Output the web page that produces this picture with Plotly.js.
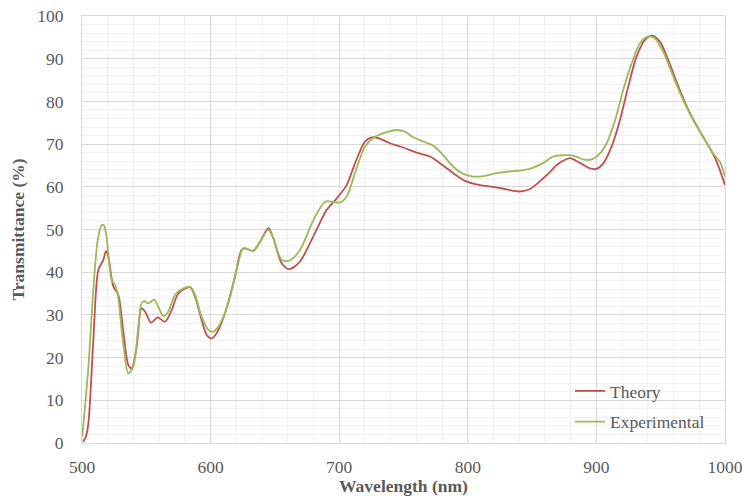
<!DOCTYPE html>
<html>
<head>
<meta charset="utf-8">
<script src="https://cdn.plot.ly/plotly-3.0.1.min.js"></script>
<style>
  html, body { margin: 0; padding: 0; background: #fff; }
  #chart { width: 742px; height: 496px; }
</style>
</head>
<body>
<div id="chart"></div>
<script>
// Transmission spectra: calculated vs. measured
const theoryWavelength = [500.8, 503, 505, 508.8, 512.7, 516.6, 518.7, 520.5, 524.4, 528.2, 532, 536, 538.6, 542.5, 546.3, 549, 553.7, 558.8, 564.5, 569.7, 574.9, 584, 587.9, 593, 597, 600.8, 604.7, 611.2, 619, 624, 626.7, 633.2, 638.4, 644.9, 648.8, 655.3, 661.3, 669.5, 679.9, 690.3, 698.1, 705.8, 712.3, 720, 725.2, 730.4, 739.5, 749.8, 760.2, 770.6, 778.4, 788.7, 797.8, 809.5, 819.8, 830.2, 840.6, 848.4, 858.7, 864, 869.1, 876.9, 879.5, 887.2, 895, 900.2, 905.4, 911.8, 918.3, 924.7, 931.2, 937.8, 943.4, 949.4, 955.9, 963.7, 971.5, 980.6, 988.3, 993.5, 1000];
const theoryT = [0.3, 1.5, 4.7, 24, 40.5, 42.9, 45, 43.6, 36.6, 34.7, 26.5, 18.3, 17.5, 22.5, 31.5, 30.8, 28.2, 29.4, 28.4, 31.1, 35, 36.5, 34.3, 28.8, 25.3, 24.5, 25.7, 30.4, 39, 45.2, 45.6, 45.0, 47.1, 50.3, 47.9, 42.1, 40.7, 42.5, 48.4, 54.6, 57.3, 60.4, 65.5, 70.6, 71.6, 71.4, 70.2, 69.2, 68, 67.1, 65.5, 63.2, 61.4, 60.4, 60, 59.4, 58.9, 59.5, 62, 63.5, 65.1, 66.5, 66.7, 65.6, 64.3, 64.2, 65.5, 69.4, 75.6, 83.4, 90.5, 94.4, 95.4, 94, 89.7, 83.5, 78, 72.9, 69, 65.9, 60.4];

const experimentalWavelength = [500.2, 505, 508.8, 512.2, 515.3, 517, 519.1, 523, 525.7, 527.7, 532, 536, 539.9, 543.8, 546.3, 549, 551.5, 556.2, 559.3, 563.2, 567.1, 572.3, 577.5, 584, 587.9, 593, 598.2, 602.1, 606, 613.8, 621.5, 625.4, 633.2, 638.4, 644.9, 648.8, 655.3, 661.3, 669.5, 679.9, 689, 695.5, 700.6, 705.8, 712.3, 720, 727.8, 736.9, 744.6, 751.1, 757.6, 765.4, 773.2, 779.7, 787.4, 795.2, 804.3, 812, 822.4, 832.8, 843.2, 850.9, 858.7, 866.5, 874.3, 879.5, 885.9, 889.8, 896.3, 902.8, 908, 914.5, 920.9, 927.4, 933.9, 940.3, 945.5, 952, 959.8, 967.5, 975.3, 983.1, 990.8, 996, 1000];
const experimentalT = [1.5, 17.9, 35.8, 47.5, 51, 51, 48.3, 38.2, 37, 35, 23.4, 16.3, 17.9, 27.2, 32.7, 33.3, 32.7, 33.6, 31.9, 29.7, 30.8, 34.7, 36, 36.6, 34.7, 29.6, 26.5, 26.1, 27.2, 32.7, 42.1, 45.6, 45.0, 47.1, 49.9, 47.9, 42.9, 42.7, 45.2, 52.2, 56.5, 56.5, 56.3, 57.7, 63.2, 69.4, 71.7, 72.8, 73.3, 72.9, 71.6, 70.6, 69.6, 67.8, 65.1, 63.2, 62.4, 62.5, 63.2, 63.6, 63.9, 64.5, 65.6, 67.1, 67.4, 67.4, 66.9, 66.4, 66.4, 67.8, 70.2, 75.6, 82.7, 88.9, 93.6, 95.2, 94.8, 91.6, 85.8, 80.3, 75.6, 71.7, 67.8, 65.9, 62.4];

const seriesNames = ['Theory', 'Experimental'];
const xTickLabels = ['500', '600', '700', '800', '900', '1000'];
const yTickLabels = ['0', '10', '20', '30', '40', '50', '60', '70', '80', '90', '100'];

const textGrey = '#595959';
const serif = '"Liberation Serif", "Times New Roman", serif';
const fontSize = 17.5;

const traces = [
  {
    x: theoryWavelength, y: theoryT, name: seriesNames[0],
    type: 'scatter', mode: 'lines', legendgroup: 'a',
    line: { color: '#C0504D', width: 1.8, shape: 'spline', smoothing: 0.8 }
  },
  {
    x: experimentalWavelength, y: experimentalT, name: seriesNames[1],
    type: 'scatter', mode: 'lines', legendgroup: 'b',
    line: { color: '#9BBB59', width: 1.8, shape: 'spline', smoothing: 0.8 }
  }
];

const layout = {
  width: 742, height: 496,
  margin: { l: 82, r: 17, t: 16, b: 53 },
  paper_bgcolor: '#ffffff', plot_bgcolor: '#ffffff',
  font: { family: serif, size: fontSize, color: textGrey },
  showlegend: true,
  legend: {
    x: 0.759, y: 0.007, xanchor: 'left', yanchor: 'bottom',
    bgcolor: 'rgba(0,0,0,0)', traceorder: 'grouped', tracegroupgap: 5,
    itemwidth: 30,
    font: { family: serif, size: fontSize, color: textGrey }
  },
  xaxis: {
    range: [500, 1000], tickmode: 'array',
    tickvals: xTickLabels.map(Number), ticktext: xTickLabels,
    showgrid: true, gridcolor: '#D9D9D9', gridwidth: 1,
    minor: { dtick: 20, showgrid: true, gridcolor: '#F0F0F0', gridwidth: 1 },
    showline: true, linecolor: '#D9D9D9', linewidth: 1, mirror: true,
    zeroline: false, ticks: '', ticklabelstandoff: 8,
    ticklabeloverflow: 'allow',
    tickfont: { family: serif, size: fontSize, color: textGrey },
    title: { text: '<b>Wavelength (nm)</b>', standoff: 8,
             font: { family: serif, size: fontSize, color: textGrey } }
  },
  yaxis: {
    range: [0, 100], tickmode: 'array',
    tickvals: yTickLabels.map(Number), ticktext: yTickLabels,
    showgrid: true, gridcolor: '#D9D9D9', gridwidth: 1,
    minor: { dtick: 2, showgrid: true, gridcolor: '#F0F0F0', gridwidth: 1 },
    showline: true, linecolor: '#D9D9D9', linewidth: 1, mirror: true,
    zeroline: false, ticks: '', ticklabelstandoff: 14,
    tickfont: { family: serif, size: fontSize, color: textGrey },
    title: { text: '<b>Transmittance (%)</b>', standoff: 8,
             font: { family: serif, size: fontSize, color: textGrey } }
  }
};

Plotly.newPlot('chart', traces, layout, { displayModeBar: false, staticPlot: true });
</script>
</body>
</html>
